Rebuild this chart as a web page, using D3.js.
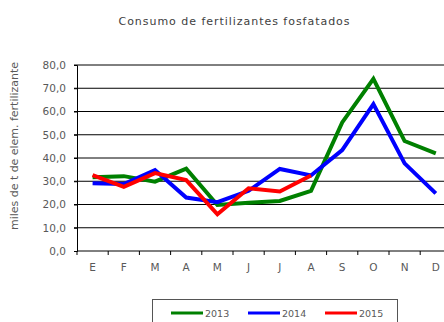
<!DOCTYPE html>
<html>
<head>
<meta charset="utf-8">
<script src="https://cdn.jsdelivr.net/npm/d3@7"></script>
<style>
  html, body { margin: 0; padding: 0; background: #fff; }
  svg { display: block; }
  text { font-family: "DejaVu Sans", sans-serif; fill: #595959; }
</style>
</head>
<body>
<div id="chart"></div>
<script>
// Monthly consumption of phosphate fertilizers (thousand t of element)
const months = ["E", "F", "M", "A", "M", "J", "J", "A", "S", "O", "N", "D"];
const yTicks = [0, 10, 20, 30, 40, 50, 60, 70, 80];
const years = ["2013", "2014", "2015"];
const colors = ["#008000", "#0000ff", "#ff0000"];
const values2013 = [31.7, 32.2, 29.8, 35.4, 19.8, 20.8, 21.5, 25.9, 55.3, 74.0, 47.3, 42.0];
const values2014 = [29.1, 28.8, 34.8, 23.0, 21.0, 25.9, 35.3, 32.5, 43.4, 63.2, 37.7, 24.8];
const values2015 = [32.6, 27.6, 33.5, 30.5, 15.8, 27.0, 25.6, 32.5];

const W = 444, H = 322;
const svg = d3.select("#chart").append("svg").attr("width", W).attr("height", H);

const x = d3.scaleBand().domain(d3.range(months.length)).range([77, 451.4]).padding(0);
const y = d3.scaleLinear().domain([0, 80]).range([251, 65]);
const cx = i => x(i) + x.bandwidth() / 2;

// Title
svg.append("text")
  .attr("x", 234).attr("y", 25)
  .attr("text-anchor", "middle")
  .style("font-size", "11px")
  .attr("textLength", 231)
  .attr("lengthAdjust", "spacing")
  .style("fill", "#404040")
  .text("Consumo de fertilizantes fosfatados");

// Horizontal gridlines
svg.append("g").selectAll("line")
  .data(yTicks.filter(d => d > 0))
  .join("line")
  .attr("x1", 74).attr("x2", 452)
  .attr("y1", d => y(d)).attr("y2", d => y(d))
  .attr("stroke", "#000").attr("stroke-width", 1);

// Y axis
const yAxis = d3.axisLeft(y).tickValues(yTicks).tickSize(3).tickPadding(8)
  .tickFormat(d => d3.format(".1f")(d).replace(".", ","));
const gy = svg.append("g").attr("transform", "translate(77,0)").call(yAxis);
gy.select(".domain").attr("stroke", "#000");
gy.selectAll(".tick line").attr("stroke", "#000");
gy.selectAll(".tick text").style("font-size", "10.5px").style("font-family", "DejaVu Sans, sans-serif").attr("fill", "#595959");

// X axis: ticks at category boundaries, labels centered in each band
const gx = svg.append("g").attr("transform", "translate(0,251)");
gx.append("line").attr("x1", 77).attr("x2", 452).attr("y1", 0).attr("y2", 0).attr("stroke", "#000");
gx.selectAll("line.tk")
  .data(d3.range(months.length + 1))
  .join("line").attr("class", "tk")
  .attr("x1", i => x.range()[0] + i * x.bandwidth())
  .attr("x2", i => x.range()[0] + i * x.bandwidth())
  .attr("y1", 0).attr("y2", 4)
  .attr("stroke", "#000");
gx.selectAll("text")
  .data(months)
  .join("text")
  .attr("x", (d, i) => cx(i))
  .attr("y", 20)
  .attr("text-anchor", "middle")
  .style("font-size", "10.5px")
  .text(d => d);

// Y axis title
svg.append("text")
  .attr("transform", "translate(18,146) rotate(-90)")
  .attr("text-anchor", "middle")
  .style("font-size", "10px")
  .attr("textLength", 168)
  .attr("lengthAdjust", "spacingAndGlyphs")
  .text("miles de t de elem. fertilizante");

// Series lines
const series = [values2013, values2014, values2015];
const line = d3.line().x((d, i) => cx(i)).y(d => y(d));
svg.append("g").selectAll("path")
  .data(series)
  .join("path")
  .attr("d", d => line(d))
  .attr("fill", "none")
  .attr("stroke", (d, i) => colors[i])
  .attr("stroke-width", 4)
  .attr("stroke-linejoin", "miter");

// Legend
const lg = svg.append("g");
lg.append("rect")
  .attr("x", 152.5).attr("y", 299.5).attr("width", 245).attr("height", 40)
  .attr("fill", "#fff").attr("stroke", "#555");
const legendX = [171, 248, 325];
years.forEach((yr, i) => {
  lg.append("line")
    .attr("x1", legendX[i]).attr("x2", legendX[i] + 32)
    .attr("y1", 313).attr("y2", 313)
    .attr("stroke", colors[i]).attr("stroke-width", 3);
  lg.append("text")
    .attr("x", legendX[i] + 34).attr("y", 317)
    .style("font-size", "9.5px")
    .text(yr);
});
</script>
</body>
</html>
